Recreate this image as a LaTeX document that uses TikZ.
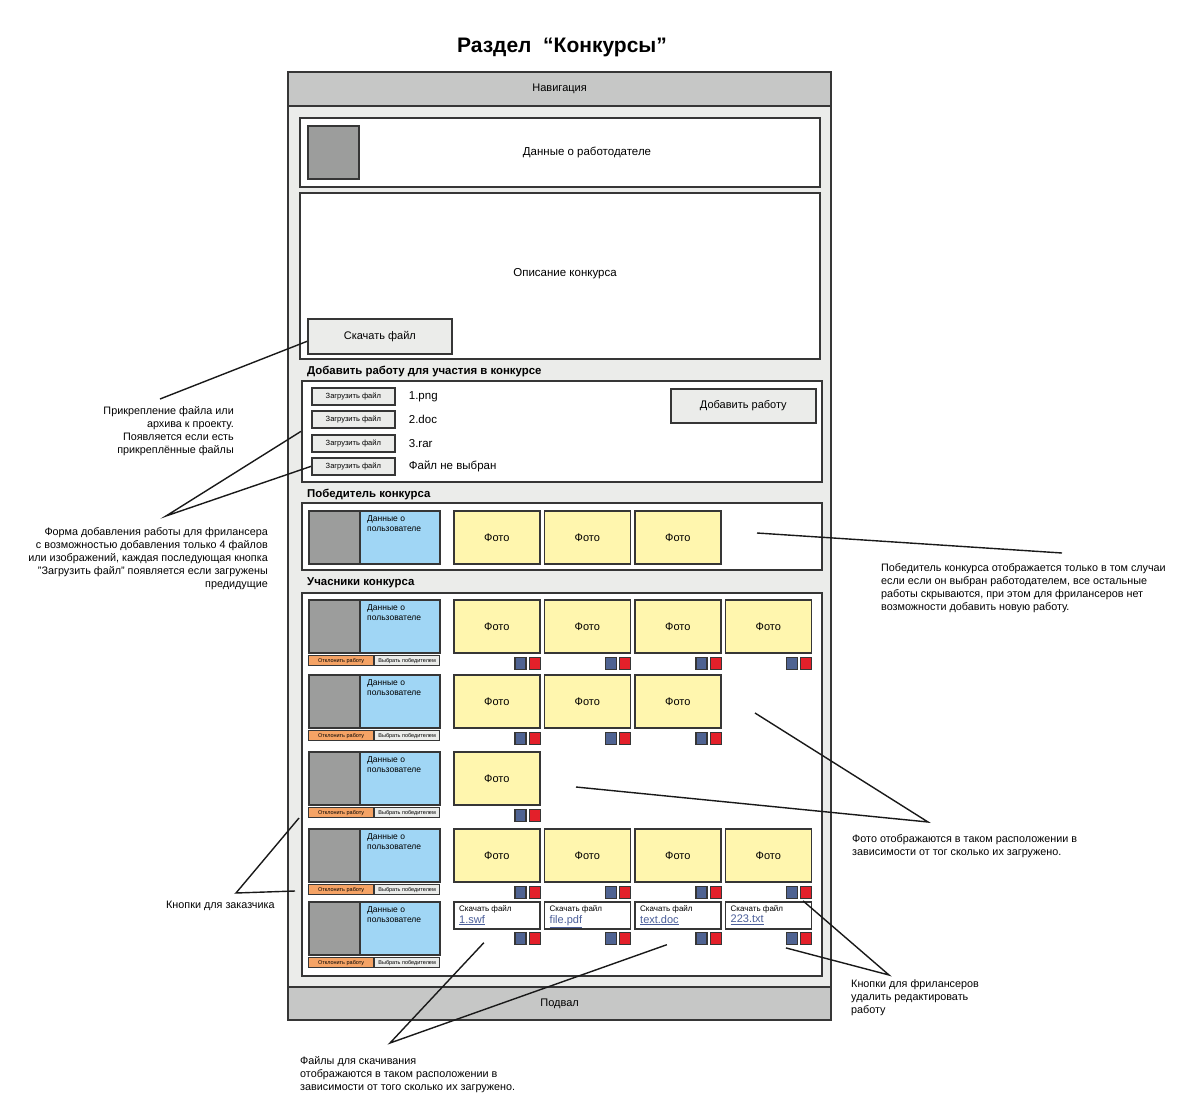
\documentclass[tikz,border=0pt]{standalone}
\usepackage{fontspec}
\setmainfont{Liberation Sans}
\usetikzlibrary{positioning}
\definecolor{framebg}{HTML}{EBECEA}
\definecolor{barbg}{HTML}{C6C7C6}
\definecolor{avatarbg}{HTML}{9C9D9C}
\definecolor{userbg}{HTML}{A0D6F5}
\definecolor{photobg}{HTML}{FFF6AE}
\definecolor{rejectbg}{HTML}{F5A365}
\definecolor{editbg}{HTML}{4F6392}
\definecolor{delbg}{HTML}{E3202A}
\definecolor{linkcol}{HTML}{4A5E99}
\definecolor{edge}{HTML}{363636}
\tikzset{
  box/.style={draw=edge, line width=1.7pt, inner sep=0pt, anchor=north west},
  panel/.style={box, fill=white},
  btn/.style={box, fill=framebg, font=\fontsize{11}{13}\selectfont},
  upbtn/.style={box, fill=framebg, minimum width=83, minimum height=17, font=\fontsize{7.5}{9}\selectfont},
  avbox/.style={box, fill=avatarbg, minimum width=51, minimum height=53},
  userbox/.style={box, fill=userbg, minimum width=80, minimum height=53},
  photo/.style={box, fill=photobg, minimum width=86, minimum height=53, font=\fontsize{11}{13}\selectfont},
  filebox/.style={box, fill=white, minimum width=86, minimum height=27},
  smallbtn/.style={box, line width=1.2pt, minimum width=65, minimum height=10, font=\fontsize{5.5}{6}\selectfont},
  sq/.style={box, line width=1.2pt, minimum width=11, minimum height=12, anchor=north east},
  txt/.style={inner sep=0pt, font=\fontsize{11.5}{13}\selectfont},
  head/.style={inner sep=0pt, anchor=west, font=\fontsize{11.4}{13}\bfseries\selectfont},
  cardtext/.style={inner sep=0pt, anchor=north west, align=left, font=\fontsize{8.5}{10}\selectfont},
  note/.style={inner sep=0pt, font=\fontsize{10.8}{13}\selectfont},
  pointer/.style={draw=black!90, line width=1.4pt}
}
\begin{document}
\begin{tikzpicture}[x=1pt, y=-1pt]
\useasboundingbox (0,0) rectangle (1200,1106);

\node[inner sep=0pt, font=\fontsize{21}{25}\bfseries\selectfont] (title) at (562,47) {Раздел\ \ “Конкурсы”};

% page frame
\node[box, fill=framebg, line width=2.2pt, minimum width=543, minimum height=948] (page) at (287,71) {};
\node[box, fill=barbg, line width=2.2pt, minimum width=543, minimum height=34, font=\fontsize{11}{13}\selectfont] (nav) at (287,71) {Навигация};
\node[box, fill=barbg, line width=2.2pt, minimum width=543, minimum height=33, font=\fontsize{11}{13}\selectfont] (foot) at (287,986) {Подвал};

% employer
\node[panel, minimum width=520, minimum height=69] (emp) at (299,117) {};
\node[box, fill=avatarbg, minimum width=51, minimum height=53] (empav) at (307,125) {};
\node[txt] (emptxt) at (587,152) {Данные о работодателе};

% description
\node[panel, minimum width=520, minimum height=166] (desc) at (299,192) {};
\node[txt] (desctxt) at (565,274) {Описание конкурса};
\node[btn, minimum width=144, minimum height=35] (dl) at (307,318) {Скачать файл};

% add work form
\node[head] (addhead) at (307,371) {Добавить работу для участия в конкурсе};
\node[panel, minimum width=520, minimum height=101] (add) at (301,380) {};
\foreach \i/\y/\f in {1/387/1.png, 2/410/2.doc, 3/434/3.rar, 4/457/Файл не выбран}{
  \node[upbtn] (up\i) at (311,\y) {Загрузить файл};
  \node[txt, anchor=west] (upf\i) at ([xshift=13pt]up\i.east) {\f};
}
\node[btn, minimum width=145, minimum height=34] (addbtn) at (670,388) {Добавить работу};

% winner
\node[head] (winhead) at (307,494) {Победитель конкурса};
\node[panel, minimum width=520, minimum height=67] (win) at (301,502) {};
\node[avbox] (wav) at (308,510) {};
\node[userbox] (wus) at (359,510) {};
\node[cardtext] at ([xshift=8pt,yshift=-5pt]wus.north west) {Данные о\\пользователе};
\foreach \k in {1,2,3}{
  \node[photo] (wph\k) at (453+90.5*\k-90.5,510) {Фото};
}

% participants
\node[head] (parthead) at (307,583) {Учасники конкурса};
\node[panel, minimum width=520, minimum height=383] (part) at (301,592) {};
\foreach \r/\y/\n in {1/599/4, 2/674/3, 3/751/1, 4/828/4, 5/901/0}{
  \node[avbox] (av\r) at (308,\y) {};
  \node[userbox] (us\r) at (359,\y) {};
  \node[cardtext] at ([xshift=8pt,yshift=-5pt]us\r.north west) {Данные о\\пользователе};
  \node[smallbtn, fill=rejectbg] (rej\r) at (308,\y+56) {Отклонить работу};
  \node[smallbtn, fill=framebg] (pick\r) at (374,\y+56) {Выбрать победителем};
  \ifnum\n>0
  \foreach \k in {1,...,\n}{
    \node[photo] (ph\r-\k) at (453+90.5*\k-90.5,\y) {Фото};
    \node[sq, fill=delbg] (del\r-\k) at ([yshift=-3pt]ph\r-\k.south east) {};
    \node[sq, fill=editbg] (ed\r-\k) at ([xshift=-2pt]del\r-\k.north west) {};
  }
  \fi
}
% files for download
\foreach \k/\f in {1/1.swf, 2/file.pdf, 3/text.doc, 4/223.txt}{
  \node[filebox] (fl\k) at (453+90.5*\k-90.5,901) {};
  \node[cardtext, font=\fontsize{8}{9}\selectfont] (flcap\k) at ([xshift=6pt,yshift=-4pt]fl\k.north west) {Скачать файл};
  \node[cardtext, font=\fontsize{11}{12}\selectfont, text=linkcol] (fllink\k) at ([yshift=-2pt]flcap\k.south west) {\underline{\f}};
  \node[sq, fill=delbg] (fdel\k) at ([yshift=-2pt]fl\k.south east) {};
  \node[sq, fill=editbg] (fed\k) at ([xshift=-2pt]fdel\k.north west) {};
}

% notes
\node[note, anchor=north east, align=right] (n1) at (234,406) {Прикрепление файла или\\архива к проекту.\\Появляется если есть\\прикреплённые файлы};
\coordinate (a1) at (160,399);
\draw[pointer] (a1) -- ([yshift=-5pt]dl.west);

\node[note, anchor=north east, align=right] (n2) at (268,527) {Форма добавления работы для фрилансера\\с возможностью добавления только 4 файлов\\или изображений, каждая последующая кнопка\\"Загрузить файл" появляется если загружены\\предидущие};
\coordinate (a2) at (166,516);
\draw[pointer] (add.west) -- (a2) -- (up4.west);

\node[note, anchor=north west, align=left] (n3) at (881,563) {Победитель конкурса отображается только в том случаи\\если если он выбран работодателем, все остальные\\работы скрываются, при этом для фрилансеров нет\\возможности добавить новую работу.};
\coordinate (a3) at (1062,553);
\coordinate (w3) at (757,533);
\draw[pointer] (a3) -- (w3);

\node[note, anchor=north west, align=left] (n4) at (852,834) {Фото отображаются в таком расположении в\\зависимости от тог сколько их загружено.};
\coordinate (a4) at (928,822);
\coordinate (p4a) at (755,713);
\coordinate (p4b) at (576,787);
\draw[pointer] (p4a) -- (a4) -- (p4b);

\node[note, anchor=north west, align=left] (n5) at (851,979) {Кнопки для фрилансеров\\удалить редактировать\\работу};
\coordinate (a5) at (889,975);
\draw[pointer] ([xshift=-3pt,yshift=-2pt]del4-4.south) -- (a5) -- ([xshift=-6pt,yshift=-3pt]fed4.south);

\node[note, anchor=north west] (n6) at (166,901) {Кнопки для заказчика};
\coordinate (a6) at (236,893);
\coordinate (p6a) at (299,818);
\coordinate (p6b) at (295,891);
\draw[pointer] (p6a) -- (a6) -- (p6b);

\node[note, anchor=north west, align=left] (n7) at (300,1056) {Файлы для скачивания\\отображаются в таком расположении в\\зависимости от того сколько их загружено.};
\coordinate (a7) at (390,1043);
\draw[pointer] ([xshift=-13pt,yshift=-13pt]fl1.south) -- (a7) -- ([xshift=-11pt,yshift=-15pt]fl3.south);
\end{tikzpicture}
\end{document}
